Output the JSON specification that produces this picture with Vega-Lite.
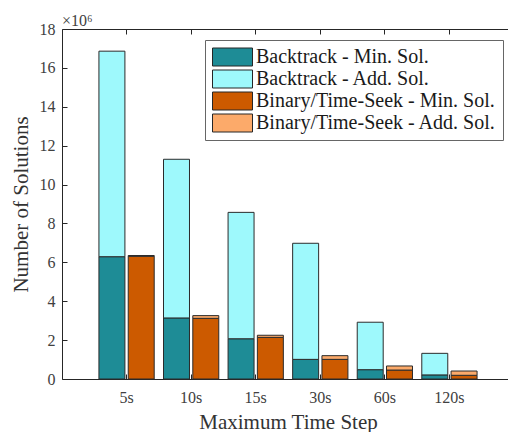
{
  "$schema": "https://vega.github.io/schema/vega-lite/v6.json",
  "width": 452,
  "height": 350,
  "autosize": {"type": "none"},
  "padding": {"left": 62, "top": 29, "right": 0, "bottom": 53},
  "background": "white",
  "config": {
    "view": {"stroke": "#262626", "strokeWidth": 1},
    "font": "Liberation Serif, Times New Roman, DejaVu Serif, serif",
    "axis": {
      "grid": false,
      "domain": false,
      "tickColor": "#262626",
      "labelColor": "#404040",
      "titleColor": "#333333",
      "labelFont": "Liberation Serif, Times New Roman, DejaVu Serif, serif",
      "titleFont": "Liberation Serif, Times New Roman, DejaVu Serif, serif",
      "titleFontWeight": "normal"
    },
    "legend": {
      "labelFont": "Liberation Serif, Times New Roman, DejaVu Serif, serif"
    },
    "title": {
      "font": "Liberation Serif, Times New Roman, DejaVu Serif, serif"
    }
  },
  "title": {
    "text": "×10⁶",
    "anchor": "start",
    "frame": "group",
    "fontSize": 16,
    "fontWeight": "normal",
    "color": "#404040",
    "offset": 1,
    "dx": 0,
    "dy": 9
  },
  "data": {
    "values": [
      {"step": "5s", "method": "Backtrack", "series": "Backtrack - Min. Sol.", "ord": 1, "value": 6.29},
      {"step": "5s", "method": "Backtrack", "series": "Backtrack - Add. Sol.", "ord": 2, "value": 10.57},
      {"step": "5s", "method": "Binary", "series": "Binary/Time-Seek - Min. Sol.", "ord": 1, "value": 6.31},
      {"step": "5s", "method": "Binary", "series": "Binary/Time-Seek - Add. Sol.", "ord": 2, "value": 0.04},
      {"step": "10s", "method": "Backtrack", "series": "Backtrack - Min. Sol.", "ord": 1, "value": 3.14},
      {"step": "10s", "method": "Backtrack", "series": "Backtrack - Add. Sol.", "ord": 2, "value": 8.16},
      {"step": "10s", "method": "Binary", "series": "Binary/Time-Seek - Min. Sol.", "ord": 1, "value": 3.12},
      {"step": "10s", "method": "Binary", "series": "Binary/Time-Seek - Add. Sol.", "ord": 2, "value": 0.14},
      {"step": "15s", "method": "Backtrack", "series": "Backtrack - Min. Sol.", "ord": 1, "value": 2.07},
      {"step": "15s", "method": "Backtrack", "series": "Backtrack - Add. Sol.", "ord": 2, "value": 6.5},
      {"step": "15s", "method": "Binary", "series": "Binary/Time-Seek - Min. Sol.", "ord": 1, "value": 2.14},
      {"step": "15s", "method": "Binary", "series": "Binary/Time-Seek - Add. Sol.", "ord": 2, "value": 0.11},
      {"step": "30s", "method": "Backtrack", "series": "Backtrack - Min. Sol.", "ord": 1, "value": 1.01},
      {"step": "30s", "method": "Backtrack", "series": "Backtrack - Add. Sol.", "ord": 2, "value": 5.97},
      {"step": "30s", "method": "Binary", "series": "Binary/Time-Seek - Min. Sol.", "ord": 1, "value": 1.01},
      {"step": "30s", "method": "Binary", "series": "Binary/Time-Seek - Add. Sol.", "ord": 2, "value": 0.19},
      {"step": "60s", "method": "Backtrack", "series": "Backtrack - Min. Sol.", "ord": 1, "value": 0.48},
      {"step": "60s", "method": "Backtrack", "series": "Backtrack - Add. Sol.", "ord": 2, "value": 2.44},
      {"step": "60s", "method": "Binary", "series": "Binary/Time-Seek - Min. Sol.", "ord": 1, "value": 0.46},
      {"step": "60s", "method": "Binary", "series": "Binary/Time-Seek - Add. Sol.", "ord": 2, "value": 0.21},
      {"step": "120s", "method": "Backtrack", "series": "Backtrack - Min. Sol.", "ord": 1, "value": 0.21},
      {"step": "120s", "method": "Backtrack", "series": "Backtrack - Add. Sol.", "ord": 2, "value": 1.11},
      {"step": "120s", "method": "Binary", "series": "Binary/Time-Seek - Min. Sol.", "ord": 1, "value": 0.19},
      {"step": "120s", "method": "Binary", "series": "Binary/Time-Seek - Add. Sol.", "ord": 2, "value": 0.22}
    ]
  },
  "layer": [
    {
      "mark": {"type": "bar", "stroke": "#2b2b2b", "strokeWidth": 1},
      "encoding": {
        "x": {
          "field": "step",
          "type": "nominal",
          "sort": ["5s", "10s", "15s", "30s", "60s", "120s"],
          "scale": {"paddingInner": 0.144, "paddingOuter": 0.572},
          "axis": {
            "orient": "bottom",
            "title": "Maximum Time Step",
            "labelAngle": 0,
            "tickSize": -5,
            "labelPadding": 15,
            "labelFontSize": 16,
            "titleFontSize": 21,
            "titlePadding": 6
          }
        },
        "xOffset": {
          "field": "method",
          "type": "nominal",
          "sort": ["Backtrack", "Binary"],
          "scale": {"paddingInner": 0.113, "paddingOuter": 0}
        },
        "y": {
          "field": "value",
          "type": "quantitative",
          "stack": "zero",
          "scale": {"domain": [0, 18], "nice": false},
          "axis": {
            "title": "Number of Solutions",
            "values": [0, 2, 4, 6, 8, 10, 12, 14, 16, 18],
            "tickSize": -5,
            "labelPadding": 12,
            "labelFontSize": 16,
            "titleFontSize": 21,
            "titlePadding": 8
          }
        },
        "color": {
          "field": "series",
          "type": "nominal",
          "scale": {
            "domain": ["Backtrack - Min. Sol.", "Backtrack - Add. Sol.", "Binary/Time-Seek - Min. Sol.", "Binary/Time-Seek - Add. Sol."],
            "range": ["#1E8C96", "#9EF9FC", "#CC5A00", "#FCAA6A"]
          },
          "legend": {
            "title": null,
            "orient": "top-right",
            "offset": 11,
            "symbolType": "M-1,-0.45L1,-0.45L1,0.45L-1,0.45Z",
            "symbolSize": 1600,
            "symbolStrokeColor": "#262626",
            "symbolStrokeWidth": 1,
            "symbolOpacity": 1,
            "labelFontSize": 20,
            "labelColor": "#1a1a1a",
            "labelOffset": 3,
            "clipHeight": 20,
            "rowPadding": 2,
            "padding": 7,
            "strokeColor": "#666666",
            "fillColor": "white",
            "labelLimit": 400
          }
        },
        "order": {"field": "ord", "type": "quantitative"}
      }
    },
    {
      "mark": {"type": "point", "opacity": 0},
      "encoding": {
        "x": {
          "field": "step",
          "type": "nominal",
          "sort": ["5s", "10s", "15s", "30s", "60s", "120s"],
          "axis": {"orient": "top", "title": null, "labels": false, "tickSize": -5}
        }
      }
    }
  ],
  "resolve": {"axis": {"x": "independent"}}
}
